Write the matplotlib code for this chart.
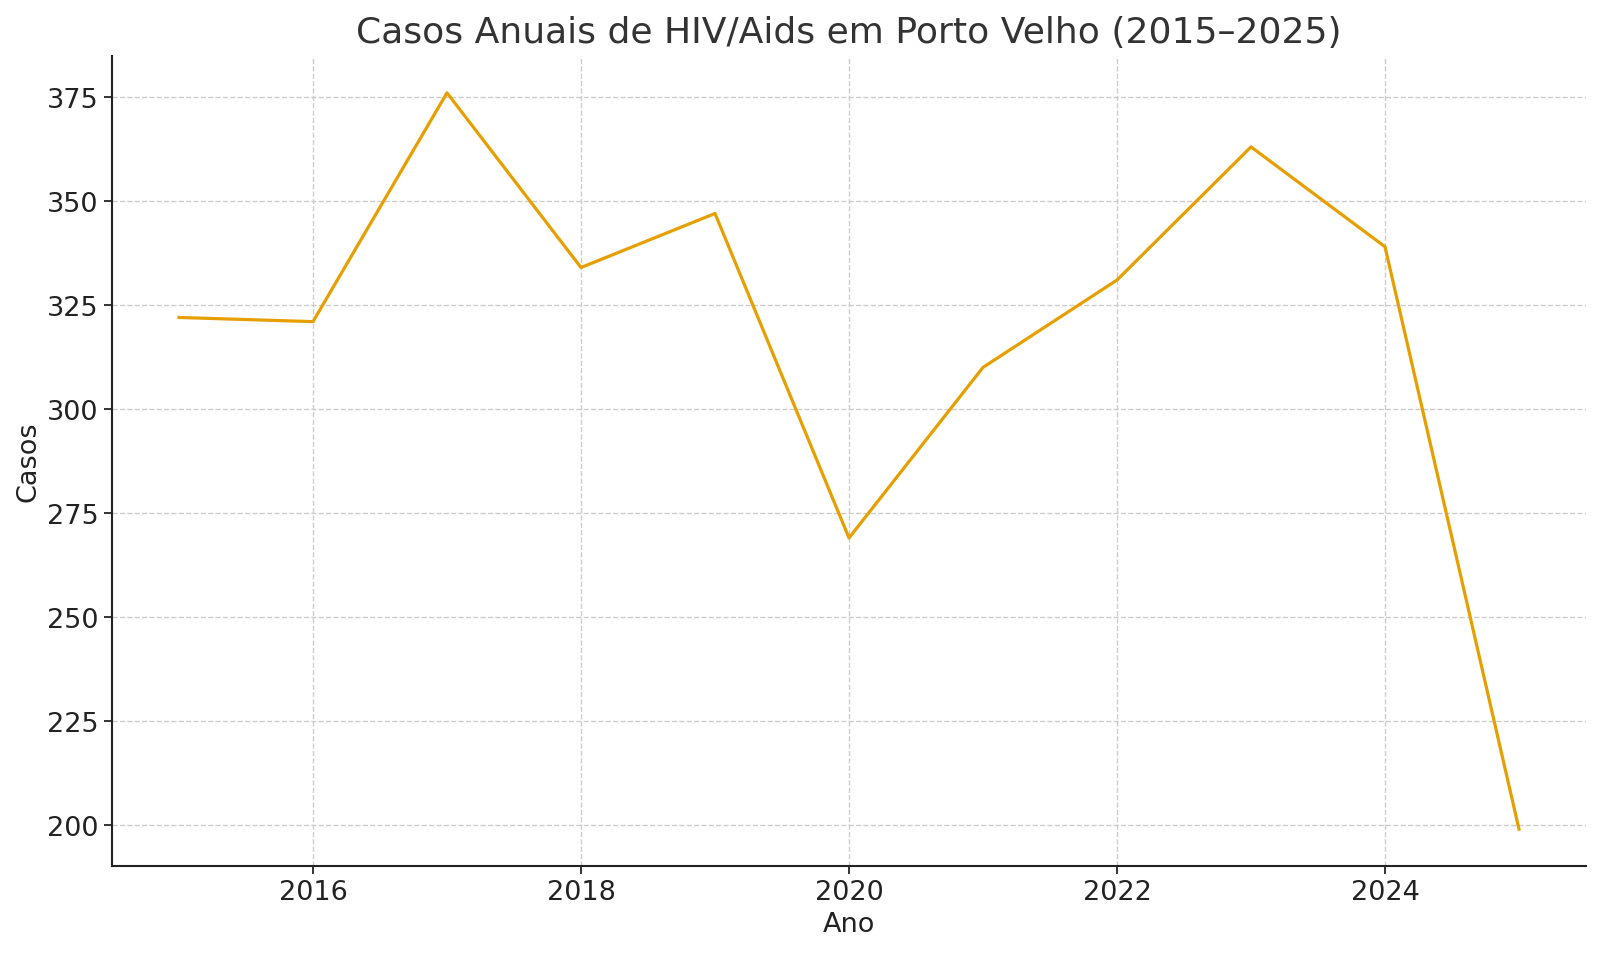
import matplotlib
matplotlib.use("Agg")
import matplotlib.pyplot as plt

anos = [2015, 2016, 2017, 2018, 2019, 2020, 2021, 2022, 2023, 2024, 2025]
casos = [322, 321, 376, 334, 347, 269, 310, 331, 363, 339, 199]

plt.rcParams['font.family'] = ['DejaVu Sans']

fig = plt.figure(figsize=(16, 9.54), dpi=100)
ax = fig.add_axes([112/1600, 1-867/954, (1586-112)/1600, (867-57)/954])

ax.plot(anos, casos, color='#E69F00', linewidth=2.3)

ax.set_title('Casos Anuais de HIV/Aids em Porto Velho (2015–2025)', fontsize=26, color='#333333', pad=10)
ax.set_xlabel('Ano', fontsize=19.5, color='#222222')
ax.set_ylabel('Casos', fontsize=19.5, color='#222222')

ax.grid(True, linestyle='--', color='#cccccc', linewidth=1.0)
ax.set_axisbelow(True)
for s in ['top', 'right']:
    ax.spines[s].set_visible(False)
for s in ['left', 'bottom']:
    ax.spines[s].set_linewidth(1.5)
    ax.spines[s].set_color('#222222')
ax.tick_params(axis='both', labelsize=19.5, colors='#222222', length=6, width=1.3)
ax.set_yticks([200, 225, 250, 275, 300, 325, 350, 375])

fig.savefig('out.png', dpi=100)
